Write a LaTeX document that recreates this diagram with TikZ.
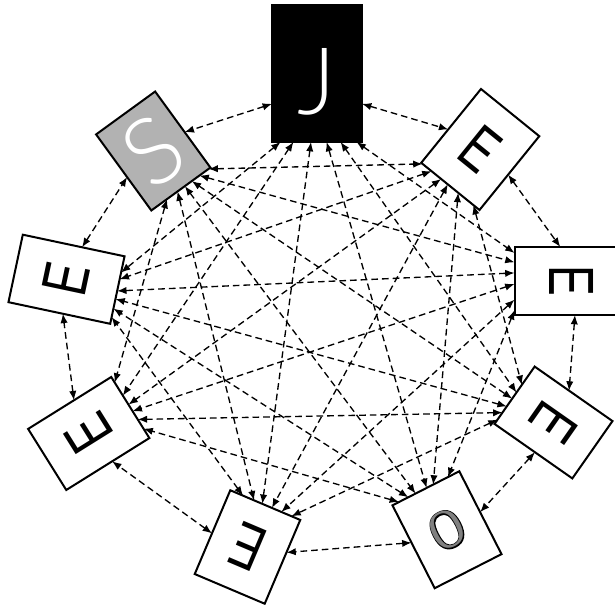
\documentclass[tikz,border=0pt]{standalone}
\usepackage{fontspec}
\setmainfont{Liberation Sans}
\newfontfamily\thinsans{Lato Light}
\newfontfamily\oserif{Liberation Serif}
\newfontfamily\oserifbold[FakeBold=4]{Liberation Serif}
\usepackage{graphicx}
\usepackage{xcolor}
\usetikzlibrary{arrows.meta}

\newcommand{\narrowE}{\scalebox{0.72}[1]{E}}
\newcommand{\outlinedO}{\scalebox{0.82}[1]{\makebox[0pt][l]{\oserifbold O}\textcolor{black!50}{\oserif O}}}

\begin{document}
\begin{tikzpicture}[x=0.75pt, y=0.75pt,
  card/.style={draw, line width=1.5pt, fill=white, inner sep=0pt, outer sep=0pt,
               minimum width=54.75pt, minimum height=70.5pt,
               font=\fontsize{48}{48}\selectfont},
  bigcard/.style={card, font=\thinsans\fontsize{70}{70}\selectfont, text=white},
  link/.style={>={Latex[length=7pt,width=5.5pt]}, <->,
               line width=1pt, dash pattern=on 5pt off 3pt}]

  \clip (0,0) rectangle (615,-605);

  % letter cards round the ring
  \node[bigcard, fill=black, minimum width=67.5pt, minimum height=102.75pt,
        text height=62pt, text depth=0pt] (j) at (317,-73.5) {J};
  \node[bigcard, fill=black!30, rotate=36] (s) at (153.25,-151) {S};
  \node[card, rotate=-39, minimum width=56.25pt, minimum height=71.25pt] (e1) at (480.25,-149.5) {\narrowE};
  \node[card, rotate=-90, minimum width=51pt, minimum height=86.25pt] (e2) at (572,-281) {\narrowE};
  \node[card, rotate=-125, minimum width=52.5pt, minimum height=71.25pt] (e3) at (553.5,-422.5) {\narrowE};
  \node[card, rotate=27, minimum width=56.25pt, minimum height=69.75pt,
        font=\fontsize{42}{42}\selectfont] (o) at (447,-529.75) {\outlinedO};
  \node[card, rotate=157, minimum width=57pt, minimum height=68.25pt] (e4) at (247.5,-547) {\narrowE};
  \node[card, rotate=122, minimum width=54pt, minimum height=73.5pt] (e5) at (88.75,-433.5) {\narrowE};
  \node[card, rotate=78, minimum width=51.75pt, minimum height=78pt] (e6) at (66.5,-279.25) {\narrowE};

  % neighbours on the ring
  \draw[link] (j.214)  -- (s.-5);
  \draw[link] (j.326)  -- (e1.187);
  \draw[link] (e1.-3)  -- (e2.199);
  \draw[link] (e2.5)   -- (e3.189);
  \draw[link] (e3.3)   -- (o.1);
  \draw[link] (o.173)  -- (e4.195);
  \draw[link] (e4.2)   -- (e5.188);
  \draw[link] (e5.-8)  -- (e6.186);
  \draw[link] (e6.-14) -- (s.189);

  % chords across the ring
  \draw[link] (j.242)  -- (e6.-71);
  \draw[link] (j.251)  -- (e5.-74);
  \draw[link] (j.265)  -- (e4.-86);
  \draw[link] (j.278)  -- (o.89);
  \draw[link] (j.289)  -- (e3.266);
  \draw[link] (j.300)  -- (e2.244);
  \draw[link] (s.-54)  -- (e1.233);
  \draw[link] (s.-64)  -- (e2.252);
  \draw[link] (s.-74)  -- (e3.275);
  \draw[link] (s.-84)  -- (o.104);
  \draw[link] (s.-95)  -- (e4.-75);
  \draw[link] (s.-110) -- (e5.-59);
  \draw[link] (e1.243) -- (e6.-78);
  \draw[link] (e1.256) -- (e5.-86);
  \draw[link] (e1.266) -- (e4.-99);
  \draw[link] (e1.282) -- (o.80);
  \draw[link] (e1.302) -- (e3.255);
  \draw[link] (e2.262) -- (e6.-91);
  \draw[link] (e2.273) -- (e5.-95);
  \draw[link] (e2.288) -- (e4.-111);
  \draw[link] (e2.297) -- (o.62);
  \draw[link] (e3.286) -- (e6.-100);
  \draw[link] (e3.294) -- (e5.-106);
  \draw[link] (e3.302) -- (e4.-122);
  \draw[link] (o.113)  -- (e6.-110);
  \draw[link] (o.123)  -- (e5.-117);
  \draw[link] (e4.-62) -- (e6.-118);
\end{tikzpicture}
\end{document}
